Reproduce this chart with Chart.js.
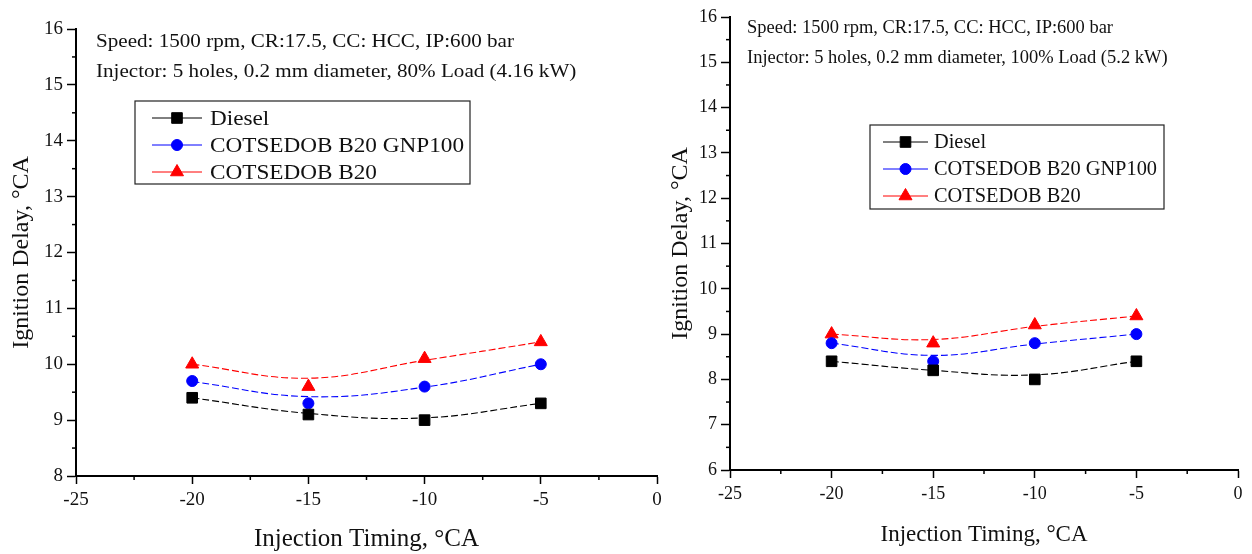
<!DOCTYPE html>
<html>
<head>
<meta charset="utf-8">
<script src="https://cdn.jsdelivr.net/npm/chart.js@4.4.1/dist/chart.umd.min.js"></script>
<style>
  html, body { margin: 0; padding: 0; background: #fff; }
  #wrap { position: relative; width: 1252px; height: 554px; overflow: hidden; }
  canvas { position: absolute; top: 0; }
</style>
</head>
<body>
<div id="wrap">
  <canvas id="left" width="680" height="554" style="left:0px"></canvas>
  <canvas id="right" width="612" height="554" style="left:640px"></canvas>
</div>
<script>
// ─── Dados ───────────────────────────────────────────────────────────────────
const injectionTiming = [-20, -15, -10, -5];
const seriesNames = ['Diesel', 'COTSEDOB B20 GNP100', 'COTSEDOB B20'];

// 80% Load (4.16 kW)
const dieselLoad80 = [9.4, 9.1, 9.0, 9.3];
const gnpLoad80 = [9.7, 9.3, 9.6, 10.0];
const b20Load80 = [10.0, 9.6, 10.1, 10.4];
// fit curves at the same timings
const dieselFit80 = [9.4, 9.12, 9.04, 9.3];
const gnpFit80 = [9.69, 9.42, 9.59, 10.0];
const b20Fit80 = [10.0, 9.75, 10.07, 10.4];

// 100% Load (5.2 kW)
const dieselLoad100 = [8.4, 8.2, 8.0, 8.4];
const gnpLoad100 = [8.8, 8.4, 8.8, 9.0];
const b20Load100 = [9.0, 8.8, 9.2, 9.4];
const dieselFit100 = [8.4, 8.2, 8.1, 8.4];
const gnpFit100 = [8.8, 8.53, 8.78, 9.0];
const b20Fit100 = [9.0, 8.88, 9.17, 9.4];

const xTickRange = { min: -25, max: 0, step: 5 };
const yRangeLeft = { min: 8, max: 16 };
const yRangeRight = { min: 6, max: 16 };

const textLeft = ['Speed: 1500 rpm, CR:17.5, CC: HCC, IP:600 bar',
                  'Injector: 5 holes, 0.2 mm diameter, 80% Load (4.16 kW)'];
const textRight = ['Speed: 1500 rpm, CR:17.5, CC: HCC, IP:600 bar',
                   'Injector: 5 holes, 0.2 mm diameter, 100% Load (5.2 kW)'];

const COLORS = ['#000000', '#0000ff', '#ff0000'];
const STYLES = ['rect', 'circle', 'triangle'];
const RADII = [7.5, 5.5, 7.5];
const SERIF = '"Liberation Serif", "DejaVu Serif", serif';

// ─── Plugins ─────────────────────────────────────────────────────────────────
const minorTicks = {
  id: 'minorTicks',
  afterDraw(chart) {
    const ctx = chart.ctx;
    ctx.save();
    ctx.strokeStyle = '#000';
    ctx.lineWidth = 1.5;
    const x = chart.scales.x, y = chart.scales.y;
    for (let v = x.min + 2.5; v < x.max; v += 5) {
      const px = x.getPixelForValue(v);
      ctx.beginPath(); ctx.moveTo(px, x.top); ctx.lineTo(px, x.top + 4); ctx.stroke();
    }
    for (let v = y.min + 0.5; v < y.max; v += 1) {
      const py = y.getPixelForValue(v);
      ctx.beginPath(); ctx.moveTo(y.right, py); ctx.lineTo(y.right - 4, py); ctx.stroke();
    }
    ctx.restore();
  }
};

// texto esticado na horizontal para casar com a largura da figura original
function stretchedText(ctx, text, x, y, sx) {
  ctx.save();
  ctx.translate(x, y);
  ctx.scale(sx, 1);
  ctx.fillText(text, 0, 0);
  ctx.restore();
}

const panelText = {
  id: 'panelText',
  afterDraw(chart, args, opts) {
    const ctx = chart.ctx;
    ctx.save();
    ctx.fillStyle = '#111';
    ctx.font = opts.size + 'px ' + SERIF;
    ctx.textBaseline = 'middle';
    const sx = opts.width / ctx.measureText(opts.lines[0]).width;
    opts.lines.forEach((t, i) => stretchedText(ctx, t, opts.x, opts.y + i * opts.dy, sx));
    ctx.restore();
  }
};

const boxLegend = {
  id: 'boxLegend',
  afterDraw(chart, args, o) {
    const ctx = chart.ctx;
    ctx.save();
    ctx.fillStyle = '#fff';
    ctx.fillRect(o.left, o.top, o.width, o.height);
    ctx.strokeStyle = '#222';
    ctx.lineWidth = 1.2;
    ctx.strokeRect(o.left, o.top, o.width, o.height);
    ctx.font = o.size + 'px ' + SERIF;
    ctx.textBaseline = 'middle';
    const sx = o.textWidth / ctx.measureText(seriesNames[1]).width;
    chart.data.datasets.filter(d => d.inLegend).forEach((d, i) => {
      const yy = o.top + o.firstRow + i * o.rowGap;
      ctx.strokeStyle = d.borderColor;
      ctx.lineWidth = 1;
      ctx.beginPath(); ctx.moveTo(o.lineX0, yy); ctx.lineTo(o.lineX1, yy); ctx.stroke();
      ctx.fillStyle = d.backgroundColor;
      ctx.strokeStyle = d.backgroundColor;
      Chart.helpers.drawPoint(ctx, { pointStyle: d.pointStyle, radius: d.pointRadius, rotation: 0, borderWidth: 1 },
        (o.lineX0 + o.lineX1) / 2, yy);
      ctx.fillStyle = '#111';
      stretchedText(ctx, d.label, o.textX, yy + 1, sx);
    });
    ctx.restore();
  }
};

// ─── Construção ──────────────────────────────────────────────────────────────
function buildDatasets(points, fits) {
  const pts = points.map((vals, i) => ({
    label: seriesNames[i],
    inLegend: true,
    data: injectionTiming.map((x, k) => ({ x, y: vals[k] })),
    showLine: false,
    pointStyle: STYLES[i],
    pointRadius: RADII[i],
    pointBorderWidth: 1,
    backgroundColor: COLORS[i],
    borderColor: COLORS[i],
    order: 0,
  }));
  const lines = fits.map((vals, i) => ({
    label: seriesNames[i] + ' fit',
    data: injectionTiming.map((x, k) => ({ x, y: vals[k] })),
    showLine: true,
    pointRadius: 0,
    borderColor: COLORS[i],
    borderWidth: 1.1,
    borderDash: [7, 3],
    tension: 0.4,
    order: 1,
  }));
  return pts.concat(lines);
}

function buildConfig(datasets, yRange, L) {
  const tickFont = { family: SERIF, size: L.tickSize };
  return {
    type: 'scatter',
    data: { datasets },
    options: {
      responsive: false,
      animation: false,
      layout: { padding: L.padding },
      plugins: {
        legend: { display: false },
        tooltip: { enabled: false },
        panelText: L.text,
        boxLegend: L.legend,
      },
      scales: {
        x: {
          type: 'linear',
          min: xTickRange.min, max: xTickRange.max,
          afterFit: s => { s.height = L.xHeight; },
          ticks: { stepSize: xTickRange.step, color: '#111', font: tickFont, padding: 5 },
          grid: { drawOnChartArea: false, tickLength: 8, tickColor: '#000', tickWidth: 1.5 },
          border: { color: '#000', width: 2 },
          title: { display: true, text: 'Injection Timing, °CA', color: '#111',
                   font: { family: SERIF, size: L.xTitleSize },
                   padding: { top: 0, bottom: L.xTitlePad } },
        },
        y: {
          min: yRange.min, max: yRange.max,
          afterFit: s => { s.width = L.yWidth; },
          ticks: { stepSize: 1, color: '#111', font: tickFont, padding: 4 },
          grid: { drawOnChartArea: false, tickLength: 9, tickColor: '#000', tickWidth: 1.5 },
          border: { color: '#000', width: 2 },
          title: { display: true, text: 'Ignition Delay, °CA', color: '#111',
                   font: { family: SERIF, size: 24 },
                   padding: { top: L.yTitlePad, bottom: 0 } },
        }
      }
    },
    plugins: [minorTicks, panelText, boxLegend]
  };
}

new Chart(document.getElementById('left'), buildConfig(
  buildDatasets([dieselLoad80, gnpLoad80, b20Load80], [dieselFit80, gnpFit80, b20Fit80]),
  yRangeLeft,
  {
    padding: { left: 0, top: 29, right: 23, bottom: 0 },
    yWidth: 76, xHeight: 78, yTitlePad: 7, xTitlePad: 0, xTitleSize: 25, tickSize: 19,
    text: { lines: textLeft, x: 96, y: 42, dy: 30, size: 19, width: 418 },
    legend: { left: 135, top: 101, width: 335, height: 83, firstRow: 17, rowGap: 27,
              lineX0: 152, lineX1: 202, textX: 210, size: 21, textWidth: 254 },
  }
));

new Chart(document.getElementById('right'), buildConfig(
  buildDatasets([dieselLoad100, gnpLoad100, b20Load100], [dieselFit100, gnpFit100, b20Fit100]),
  yRangeRight,
  {
    padding: { left: 0, top: 17, right: 14, bottom: 0 },
    yWidth: 90, xHeight: 84, yTitlePad: 26, xTitlePad: 5, xTitleSize: 23, tickSize: 18,
    text: { lines: textRight, x: 107, y: 28, dy: 30, size: 18, width: 366 },
    legend: { left: 230, top: 125, width: 294, height: 84, firstRow: 17, rowGap: 27,
              lineX0: 243, lineX1: 288, textX: 294, size: 20, textWidth: 223 },
  }
));
</script>
</body>
</html>
